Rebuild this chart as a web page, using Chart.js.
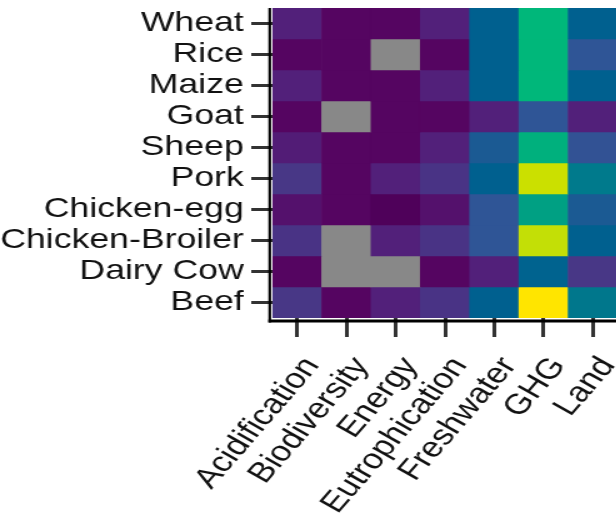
<!DOCTYPE html>
<html>
<head>
<meta charset="utf-8">
<script src="https://cdn.jsdelivr.net/npm/chart.js@4.4.0/dist/chart.umd.min.js"></script>
<style>
  html, body { margin: 0; padding: 0; background: #fff; overflow: hidden; }
  #wrap { width: 494px; height: 519px; transform: scaleX(1.25); transform-origin: 0 0; }
</style>
</head>
<body>
<div id="wrap"><canvas id="heat"></canvas></div>
<script>
const foods = ['Wheat', 'Rice', 'Maize', 'Goat', 'Sheep', 'Pork', 'Chicken-egg', 'Chicken-Broiler', 'Dairy Cow', 'Beef'];
const metrics = ['Acidification', 'Biodiversity', 'Energy', 'Eutrophication', 'Freshwater', 'GHG', 'Land'];

// scaled impact per food (same order as foods), null = no data
const acidification  = [0.12, 0.05, 0.12, 0.05, 0.11, 0.19, 0.08, 0.18, 0.05, 0.19];
const biodiversity   = [0.05, 0.05, 0.05, null, 0.05, 0.05, 0.05, null, null, 0.05];
const energy         = [0.05, null, 0.05, 0.05, 0.05, 0.12, 0.01, 0.12, null, 0.12];
const eutrophication = [0.12, 0.05, 0.12, 0.05, 0.12, 0.18, 0.08, 0.18, 0.05, 0.18];
const freshwater     = [0.35, 0.35, 0.35, 0.12, 0.31, 0.35, 0.28, 0.28, 0.12, 0.35];
const ghg            = [0.62, 0.62, 0.62, 0.28, 0.60, 0.92, 0.55, 0.91, 0.36, 1.00];
const land           = [0.35, 0.28, 0.35, 0.12, 0.27, 0.45, 0.31, 0.35, 0.19, 0.44];

const columns = [acidification, biodiversity, energy, eutrophication, freshwater, ghg, land];

// viridis-like ramp
const ramp = [
  [0.00, [78, 0, 88]],
  [0.05, [85, 5, 97]],
  [0.12, [82, 32, 122]],
  [0.20, [70, 58, 136]],
  [0.28, [47, 85, 150]],
  [0.35, [0, 96, 143]],
  [0.45, [0, 122, 140]],
  [0.55, [0, 160, 131]],
  [0.62, [0, 183, 122]],
  [0.75, [80, 200, 90]],
  [0.85, [150, 215, 40]],
  [0.92, [203, 224, 0]],
  [1.00, [255, 229, 0]]
];
const naColor = '#888888';

function cellColor(v) {
  if (v === null) return naColor;
  for (let i = 1; i < ramp.length; i++) {
    const [p1, c1] = ramp[i];
    const [p0, c0] = ramp[i - 1];
    if (v <= p1) {
      const t = (v - p0) / (p1 - p0);
      const c = c0.map((a, k) => Math.round(a + (c1[k] - a) * t));
      return `rgb(${c[0]},${c[1]},${c[2]})`;
    }
  }
  const c = ramp[ramp.length - 1][1];
  return `rgb(${c[0]},${c[1]},${c[2]})`;
}

// one stacked row per food, one unit-high segment per metric
const datasets = foods.map((food, r) => ({
  label: food,
  data: metrics.map(() => 1),
  backgroundColor: columns.map(col => cellColor(col[r])),
  borderWidth: 0,
  barPercentage: 1,
  categoryPercentage: 1,
  yAxisID: 'y'
}));

const labelFont = { family: 'Liberation Sans, Arial, sans-serif', size: 28.5 };
const textColor = '#111';

// thick axis lines sitting just outside the tiles
const axisLines = {
  id: 'axisLines',
  afterDatasetsDraw(chart) {
    const { ctx, chartArea: a } = chart;
    ctx.save();
    ctx.strokeStyle = '#000';
    ctx.lineWidth = 2.2;
    ctx.beginPath();
    ctx.moveTo(a.left - 2.2, a.top);
    ctx.lineTo(a.left - 2.2, a.bottom + 4.5);
    ctx.stroke();
    ctx.lineWidth = 3;
    ctx.beginPath();
    ctx.moveTo(a.left - 3.3, a.bottom + 3);
    ctx.lineTo(a.right, a.bottom + 3);
    ctx.stroke();
    ctx.restore();
  }
};

new Chart(document.getElementById('heat'), {
  type: 'bar',
  data: { labels: metrics, datasets },
  plugins: [axisLines],
  options: {
    responsive: true,
    maintainAspectRatio: false,
    animation: false,
    layout: { padding: { top: 8, left: 0, right: 0, bottom: 0 } },
    plugins: { legend: { display: false }, tooltip: { enabled: false } },
    scales: {
      x: {
        stacked: true,
        offset: true,
        grid: { offset: false, drawOnChartArea: false, tickLength: 19, tickWidth: 3, tickColor: '#333' },
        border: { display: false },
        ticks: {
          font: labelFont, color: textColor, autoSkip: false,
          minRotation: 55, maxRotation: 55, padding: 14, labelOffset: 12
        },
        afterFit(s) { s.height = 201; s.paddingLeft = 0; s.paddingRight = 0; }
      },
      y: { stacked: true, min: 0, max: 10, reverse: true, display: false },
      rows: {
        type: 'category',
        labels: foods,
        position: 'left',
        offset: true,
        grid: { offset: false, drawOnChartArea: false, tickLength: 17, tickWidth: 3, tickColor: '#333' },
        border: { display: false },
        ticks: { font: labelFont, color: textColor, padding: 6, autoSkip: false },
        afterFit(s) { s.width = 218; s.paddingTop = 0; s.paddingBottom = 0; }
      }
    }
  }
});
</script>
</body>
</html>
